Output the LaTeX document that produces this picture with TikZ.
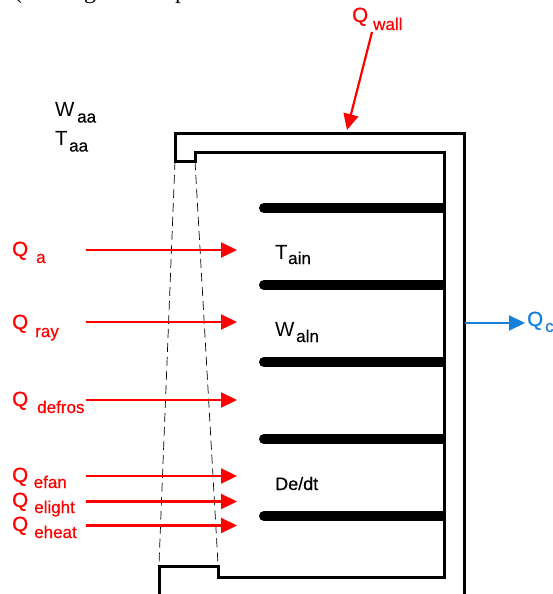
\documentclass[tikz,border=0pt]{standalone}
\usepackage{fontspec}
\setmainfont{Liberation Sans}
\newfontfamily\topserif{Liberation Serif}
\newfontfamily\heavysans[FakeBold=0.5]{Liberation Sans}
\newfontfamily\heavyq[FakeBold=1.2]{Liberation Sans}
\usetikzlibrary{arrows.meta}
\definecolor{qred}{RGB}{255,0,0}
\definecolor{qblue}{RGB}{21,128,220}
\tikzset{
  bigl/.style={inner sep=0pt,anchor=base west,font=\fontsize{20.5}{24}\selectfont},
  qbig/.style={inner sep=0pt,anchor=base west,font=\heavyq\fontsize{20.5}{24}\selectfont},
  qsub/.style={inner sep=0pt,anchor=base west,font=\heavysans\fontsize{17}{20}\selectfont},
  toptxt/.style={inner sep=0pt,anchor=base west,font=\topserif\fontsize{24}{28}\selectfont},
  redtxt/.style={text=qred},
  bluetxt/.style={text=qblue},
  heatarrow/.style={draw=qred,line width=2.2pt,-{Triangle[length=16pt,width=15pt]}},
  wallline/.style={draw=black,line width=3pt,line join=miter},
  ductline/.style={draw=black,line width=0.7pt,dash pattern=on 9pt off 5pt},
  barline/.style={draw=black,line width=10pt}
}
\begin{document}
\begin{tikzpicture}[x=1pt,y=-1pt]
\useasboundingbox (0,0) rectangle (552,594);
% cropped line of text above the figure
\node[toptxt] (topa) at (14,-1) {(};
\node[toptxt] (topb) at (84,-1) {g};
\node[toptxt] (topc) at (175,-1) {p};
% enclosure
\draw[wallline] (159,597) -- (159,566) -- (218,566) -- (218,577) -- (444,577) -- (444,152) -- (195,152) -- (195,161) -- (175,161) -- (175,133) -- (464,133) -- (464,597);
% air curtain
\coordinate (d1) at (175,161);
\coordinate (d2) at (195,161);
\coordinate (d3) at (159,564);
\coordinate (d4) at (218,564);
\draw[ductline] (d1) -- (d3);
\draw[ductline] (d2) -- (d4);
% shelves
\foreach \y in {208,285,362,439,516}{
  \draw[barline,line cap=round] (264,\y) -- (290,\y);
  \draw[barline] (270,\y) -- (444,\y);
}
% red arrows
\foreach \n/\y in {a/250,ray/322,def/400,fan/476,lig/501.5,hea/525.5}{
  \coordinate (s\n) at (86,\y);
  \coordinate (e\n) at (237,\y);
  \draw[heatarrow] (s\n) -- (e\n);
}
\coordinate (swall) at (372,32);
\coordinate (ewall) at (347,130);
\draw[heatarrow] (swall) -- (ewall);
\coordinate (sc) at (465,323);
\coordinate (ec) at (525,323);
\draw[draw=qblue,line width=2pt,-{Triangle[length=16pt,width=15pt]}] (sc) -- (ec);
% labels
\node[qbig,redtxt] (qw) at (352,22) {Q};
\node[qsub,redtxt] (qws) at (373,30) {wall};
\node[qbig,redtxt] (q1) at (12,256) {Q};
\node[qsub,redtxt] (q1s) at (36,263) {a};
\node[qbig,redtxt] (q2) at (12,329) {Q};
\node[qsub,redtxt] (q2s) at (35,337) {ray};
\node[qbig,redtxt] (q3) at (12,406) {Q};
\node[qsub,redtxt] (q3s) at (37,413) {defros};
\node[qbig,redtxt] (q4) at (12,482) {Q};
\node[qsub,redtxt] (q4s) at (33.5,488) {efan};
\node[qbig,redtxt] (q5) at (12,507) {Q};
\node[qsub,redtxt] (q5s) at (34,513) {elight};
\node[qbig,redtxt] (q6) at (12,531) {Q};
\node[qsub,redtxt] (q6s) at (34,538) {eheat};
\node[qbig,bluetxt] (qc) at (527,326) {Q};
\node[qsub,bluetxt] (qcs) at (545,332) {c};
\node[bigl] (w1) at (55,116) {W};
\node[qsub] (w1s) at (77,122.5) {aa};
\node[bigl] (t1) at (55,145) {T};
\node[qsub] (t1s) at (69,151.5) {aa};
\node[bigl] (t2) at (275,259) {T};
\node[qsub] (t2s) at (288,264) {ain};
\node[bigl] (w2) at (275,336) {W};
\node[qsub] (w2s) at (296,342) {aln};
\node[inner sep=0pt,anchor=base west,font=\heavysans\fontsize{18}{22}\selectfont] (de) at (275,490) {De/dt};
\end{tikzpicture}
\end{document}
